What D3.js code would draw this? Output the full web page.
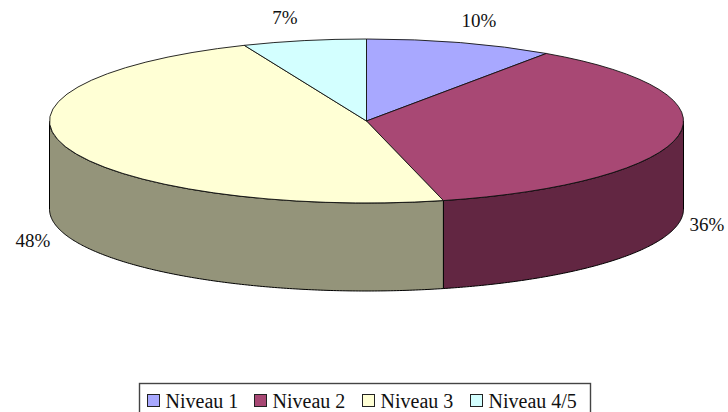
<!DOCTYPE html>
<html><head><meta charset="utf-8">
<script src="https://cdn.jsdelivr.net/npm/d3@7"></script>
<style>html,body{margin:0;padding:0;background:#fff;overflow:hidden}svg{display:block}text{font-family:"Liberation Serif",serif;fill:#111}</style>
</head><body><svg id="c" width="728" height="412"></svg>
<script>
const categories = ["Niveau 1","Niveau 2","Niveau 3","Niveau 4/5"];
const values = [9.6,36.5,47.6,6.3];
const labels = ["10%","36%","48%","7%"];
const topColors = ["#a8a8ff","#a84874","#ffffd5","#d3ffff"];
const sideColors = ["#54547f","#622642","#94947a","#6a7f7f"];
const labelPos = [[479,23],[707,227],[33,243],[285,20]];
const legendX = [147,254,362,470];

const svg = d3.select("#c");
const cx=366.5, cy=121, rx=317, ry=82, depth=88;
const arcs = d3.pie().sort(null).value(d=>d)(values);
const px = a=>cx+rx*Math.sin(a), py = a=>cy-ry*Math.cos(a);
const lo=Math.PI/2, hi=3*Math.PI/2;

// side walls (front half only)
const wall = d3.area().x(d=>px(d)).y0(d=>py(d)).y1(d=>py(d)+depth);
arcs.forEach((s,i)=>{
  const a=Math.max(s.startAngle,lo), b=Math.min(s.endAngle,hi);
  if(b<=a) return;
  svg.append("path").datum(d3.range(a,b,0.01).concat([b]))
    .attr("d",wall).attr("fill",sideColors[i]).attr("stroke","#000").attr("stroke-width",1);
});
// top
const arc = d3.arc().innerRadius(0).outerRadius(rx);
svg.append("g").attr("transform",`translate(${cx},${cy}) scale(1,${ry/rx})`)
  .selectAll("path").data(arcs).join("path")
  .attr("d",arc).attr("fill",(d,i)=>topColors[i])
  .attr("stroke","#111").attr("stroke-width",0.9).attr("vector-effect","non-scaling-stroke");
// data labels
svg.selectAll("text.l").data(labels).join("text").attr("class","l")
  .attr("x",(d,i)=>labelPos[i][0]).attr("y",(d,i)=>labelPos[i][1])
  .attr("text-anchor","middle").attr("dominant-baseline","middle").attr("font-size",19).text(d=>d);
// legend
svg.append("rect").attr("x",139.5).attr("y",383.5).attr("width",451).attr("height",40)
  .attr("fill","#fff").attr("stroke","#444").attr("stroke-width",1.4);
const lg = svg.selectAll("g.k").data(categories).join("g").attr("class","k")
  .attr("transform",(d,i)=>`translate(${legendX[i]},0)`);
lg.append("rect").attr("x",0.5).attr("y",394.5).attr("width",12).attr("height",12)
  .attr("fill",(d,i)=>topColors[i]).attr("stroke","#222");
lg.append("text").attr("x",18.5).attr("y",408).attr("font-size",20).text(d=>d);
</script></body></html>
